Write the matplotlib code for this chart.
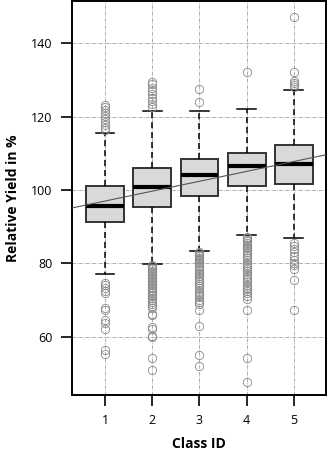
import matplotlib
matplotlib.use("Agg")
import matplotlib.pyplot as plt
import numpy as np

plt.rcParams["font.family"] = ["Open Sans", "DejaVu Sans"]

# values
classes = [1, 2, 3, 4, 5]
q1 = [91.3, 95.4, 98.4, 101.1, 101.7]
medians = [95.6, 100.8, 104.2, 106.5, 107.2]
q3 = [101.1, 106.0, 108.5, 110.2, 112.2]
whisker_low = [77.1, 79.8, 83.3, 87.7, 86.8]
whisker_high = [115.5, 121.5, 121.7, 122.0, 127.3]

fliers_1 = [123.3, 122.6, 121.8, 121.0, 120.2, 119.4, 118.6, 117.8, 117.0, 116.4,
            74.6, 74.0, 73.3, 72.6, 72.0, 67.8, 67.3, 64.6, 63.6, 62.0, 56.4, 55.2]
fliers_2 = [129.6, 128.8, 127.9, 127.0, 126.1, 125.2, 124.4, 123.5, 122.6,
            79.6, 79.2, 78.8, 78.4, 78.0, 77.6, 77.2, 76.8, 76.4, 76.0, 75.6, 75.2,
            74.8, 74.4, 74.0, 73.6, 73.2, 72.8, 72.4, 72.0, 71.5, 71.0, 70.5, 70.0,
            69.5, 69.0, 68.4, 67.8, 66.3, 65.8, 62.6, 62.2, 60.3, 59.8, 54.1, 51.0]
fliers_3 = [127.7, 124.1,
            83.2, 82.8, 82.4, 82.0, 81.6, 81.2, 80.8, 80.4, 80.0, 79.5, 79.0, 78.5,
            78.0, 77.5, 77.0, 76.5, 76.0, 75.5, 75.0, 74.4, 73.8, 73.2, 72.6, 72.0,
            71.4, 70.7, 70.0, 69.4, 68.8, 67.4, 62.8, 55.1, 51.9]
fliers_4 = [132.1,
            87.3, 86.9, 86.5, 86.1, 85.6, 85.1, 84.6, 84.1, 83.6, 83.1, 82.6, 82.0,
            81.4, 80.8, 80.2, 79.6, 79.0, 78.4, 77.8, 77.2, 76.6, 76.0, 75.4, 74.8,
            74.2, 73.6, 73.0, 72.4, 71.8, 71.0, 70.3, 67.4, 54.1, 47.6]
fliers_5 = [147.3, 132.2, 129.8, 129.2, 128.6, 128.0,
            85.6, 84.8, 84.0, 83.0, 82.0, 81.0, 80.2, 79.5, 78.6, 75.6, 67.3]
fliers = [fliers_1, fliers_2, fliers_3, fliers_4, fliers_5]

# linear trend: yield = intercept + slope * class
trend_intercept = 94.3
trend_slope = 2.7

yticks = [60, 80, 100, 120, 140]

stats = []
for i in range(len(classes)):
    stats.append(dict(med=medians[i], q1=q1[i], q3=q3[i],
                      whislo=whisker_low[i], whishi=whisker_high[i],
                      fliers=fliers[i]))

fig = plt.figure(figsize=(3.30, 4.54), dpi=100)
ax = fig.add_axes([0.218, 0.130, 0.770, 0.868])

ax.grid(True, color="#9a9a9a", linestyle=(0, (4, 1.5, 1, 1.5)), linewidth=0.6)
ax.set_axisbelow(True)

ax.bxp(stats, positions=classes, widths=0.8, capwidths=0.4,
       patch_artist=True,
       boxprops=dict(facecolor="#d9d9d9", edgecolor="#333333", linewidth=1.4),
       medianprops=dict(color="black", linewidth=3),
       whiskerprops=dict(color="black", linestyle=(0, (4, 2.5)), linewidth=1.1),
       capprops=dict(color="black", linewidth=1.1),
       flierprops=dict(marker="o", markerfacecolor="none",
                       markeredgecolor="#8a8a8a", markersize=6,
                       markeredgewidth=0.6))

xs = np.array([0.3, 5.68])
ax.plot(xs, trend_intercept + trend_slope * xs, color="#555555", linewidth=0.8,
        zorder=3)

ax.set_xlim(0.3, 5.68)
ax.set_ylim(44.1, 151.6)
ax.set_yticks(yticks)
ax.set_xticks(classes)
ax.set_xticklabels([str(c) for c in classes])
ax.tick_params(axis="both", length=8, width=1.2, labelsize=9, pad=6)
for s in ax.spines.values():
    s.set_linewidth(1.4)

ax.set_xlabel("Class ID", fontsize=10, fontweight="bold", labelpad=7)
ax.set_ylabel("Relative Yield in %", fontsize=10, fontweight="bold", labelpad=8)

fig.savefig("out.png", dpi=100)
